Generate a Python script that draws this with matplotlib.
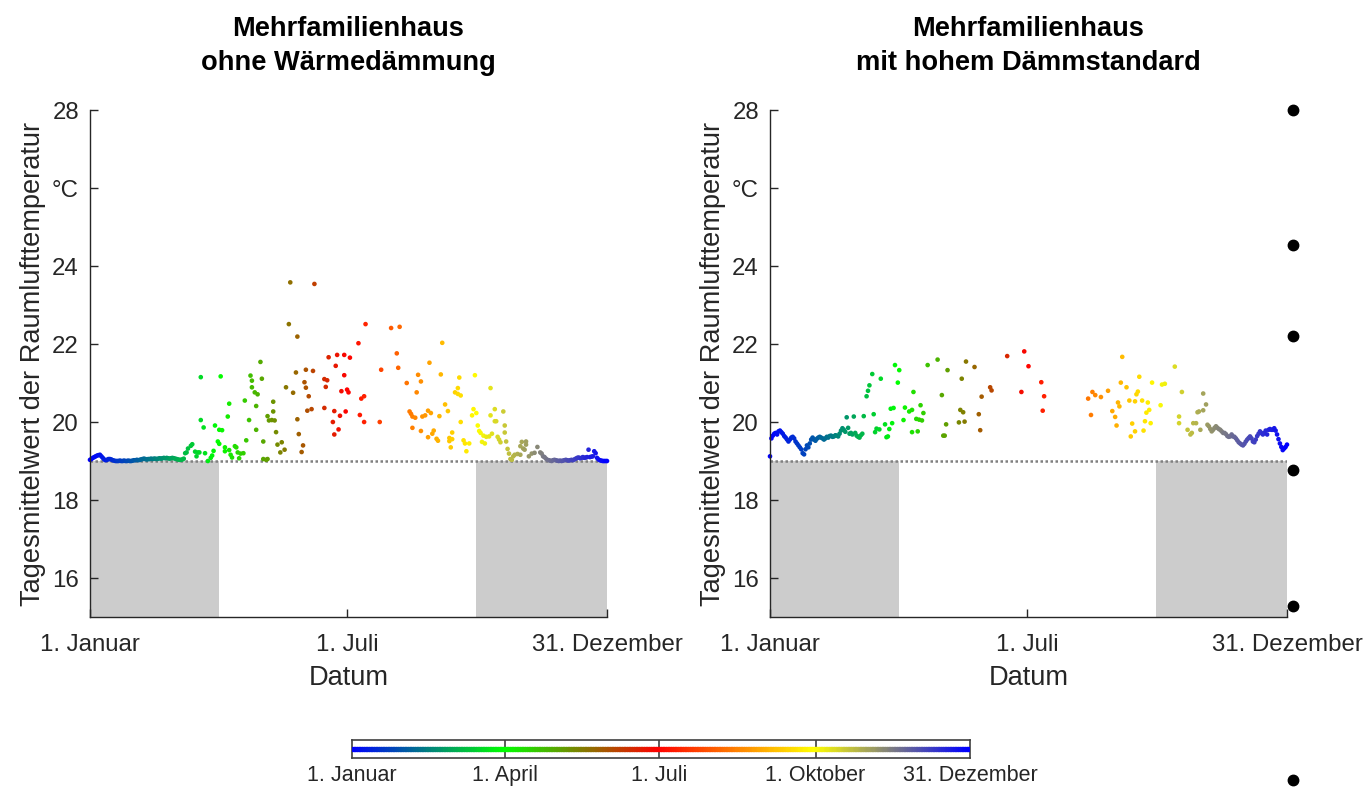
import numpy as np
import matplotlib
matplotlib.use('Agg')
import matplotlib.pyplot as plt
from matplotlib.colors import LinearSegmentedColormap, Normalize
from matplotlib.collections import LineCollection

plt.rcParams['font.family'] = ['Liberation Sans', 'DejaVu Sans']

# ---------------- texts / categories ----------------
titles = ["Mehrfamilienhaus\nohne Wärmedämmung",
          "Mehrfamilienhaus\nmit hohem Dämmstandard"]
ylabel = "Tagesmittelwert der Raumlufttemperatur"
xlabel = "Datum"
ytick_vals = [16, 18, 20, 22, 24, 26, 28]
ytick_labels = ['16', '18', '20', '22', '24', '°C', '28']
xtick_days = [1, 182, 365]
xtick_labels = ['1. Januar', '1. Juli', '31. Dezember']
cbar_days = [1, 91, 182, 274, 365]
cbar_labels = ['1. Januar', '1. April', '1. Juli', '1. Oktober', '31. Dezember']
cmap_colors = ['#0000ff', '#00ff00', '#ff0000', '#ffff00', '#0000ff']
setpoint = 19.0
y_limits = (15.0, 28.0)
heating_periods = [(1, 92), (273, 365)]
side_marker_levels = [0.860, 0.689, 0.573, 0.403, 0.230, 0.009]

# ---------------- left: ohne Wärmedämmung ----------------
left_winter_start = [
    19.03, 19.05, 19.08, 19.10, 19.12, 19.14, 19.15, 19.16, 19.12, 19.08,
    19.04, 19.02, 19.03, 19.05, 19.05, 19.04, 19.02, 19.01, 19.00, 19.00,
    19.00, 19.01, 19.00, 19.00, 19.01, 19.00, 19.00, 19.01, 19.00, 19.00,
    19.01, 19.02, 19.02, 19.03, 19.02, 19.03, 19.04, 19.05, 19.06, 19.05,
    19.04, 19.05, 19.05, 19.06, 19.05, 19.06, 19.06, 19.05, 19.06, 19.07,
    19.06, 19.07, 19.08, 19.07, 19.08, 19.07, 19.06, 19.07, 19.08, 19.07,
    19.06, 19.05, 19.04, 19.03, 19.03, 19.04, 19.06]
left_mid_days = [
    68, 69, 70, 72, 73, 75, 76, 77, 78, 79, 79, 81, 82, 84, 86, 87, 88, 89, 91, 92,
    92, 93, 94, 96, 96, 98, 99, 99, 100, 101, 103, 104, 105, 106, 107, 109, 110, 111, 113, 114,
    115, 115, 117, 118, 118, 119, 121, 122, 123, 123, 125, 126, 126, 127, 129, 130, 130, 131, 132, 133,
    135, 136, 138, 139, 141, 142, 144, 146, 147, 147, 148, 150, 151, 152, 153, 153, 154, 155, 157, 158,
    159, 166, 166, 167, 168, 169, 172, 173, 173, 174, 175, 176, 177, 178, 180, 180, 181, 182, 183, 184,
    190, 191, 192, 194, 194, 195, 205, 206, 213, 217, 218, 219, 224, 226, 227, 228, 228, 230, 231, 232,
    234, 234, 235, 237, 239, 239, 240, 241, 242, 243, 245, 246, 247, 248, 249, 251, 253, 254, 254, 255,
    256, 256, 258, 260, 260, 261, 262, 262, 264, 265, 266, 268, 270, 271, 272, 273, 274, 275, 276, 277,
    278, 279, 280, 282, 283, 283, 284, 286, 286, 287, 288, 289, 290, 292, 293, 293, 294, 295, 296, 297,
    298, 299, 300, 302, 304, 304, 305, 306, 307, 308, 308, 310, 312, 314, 316, 318, 319, 320]
left_mid_vals = [
    19.20, 19.22, 19.32, 19.39, 19.43, 19.24, 19.12, 19.22, 19.22, 21.15, 20.05, 19.86, 19.20, 19.00, 19.08, 19.14, 19.26, 19.91, 19.50, 19.44,
    19.80, 21.17, 19.79, 19.35, 19.25, 20.14, 20.47, 19.28, 19.16, 19.09, 19.38, 19.35, 19.22, 19.07, 19.19, 19.20, 20.55, 19.53, 20.05, 21.19,
    21.06, 20.89, 20.76, 20.41, 19.80, 20.71, 21.54, 21.11, 19.50, 19.05, 19.03, 19.05, 20.15, 20.04, 20.05, 20.52, 20.27, 20.04, 19.74, 19.42,
    19.22, 19.48, 19.29, 20.89, 22.51, 23.58, 20.75, 21.27, 22.19, 20.07, 19.69, 19.23, 19.40, 21.02, 21.34, 20.88, 20.29, 20.66, 20.33, 21.31,
    23.54, 20.36, 21.10, 20.90, 21.07, 21.66, 20.00, 20.28, 19.68, 21.44, 21.72, 19.81, 20.16, 20.79, 21.72, 21.20, 20.27, 20.83, 20.76, 21.65,
    22.02, 20.18, 20.60, 20.66, 20.00, 22.51, 20.00, 21.34, 22.41, 21.76, 21.39, 22.44, 21.00, 20.27, 20.21, 19.85, 20.14, 20.11, 20.76, 21.21,
    21.04, 19.77, 20.14, 20.17, 20.29, 19.61, 21.52, 20.23, 19.70, 19.78, 19.57, 19.52, 20.15, 21.22, 22.03, 20.45, 20.28, 19.59, 19.51, 19.35,
    19.73, 19.56, 20.76, 20.87, 20.72, 21.14, 20.68, 20.00, 19.53, 19.45, 19.25, 19.45, 20.17, 20.33, 21.20, 20.23, 19.91, 19.77, 19.72, 19.49,
    19.65, 19.45, 19.62, 19.63, 20.87, 20.17, 19.70, 20.02, 20.33, 20.02, 19.62, 19.55, 19.48, 20.27, 19.73, 19.91, 19.50, 19.31, 19.19, 19.05,
    19.03, 19.12, 19.16, 19.18, 19.16, 19.38, 19.49, 19.32, 19.29, 19.50, 19.42, 19.12, 19.19, 19.21, 19.36, 19.22, 19.19, 19.12]
left_winter_end = [
    19.10, 19.06, 19.03, 19.02, 19.01, 19.00, 19.02, 19.03, 19.02, 19.01,
    19.00, 19.01, 19.00, 19.01, 19.02, 19.03, 19.02, 19.01, 19.02, 19.03,
    19.02, 19.04, 19.06, 19.08, 19.09, 19.07, 19.08, 19.10, 19.08, 19.09,
    19.10, 19.29, 19.10, 19.11, 19.12, 19.25, 19.20, 19.08, 19.04, 19.02,
    19.01, 19.00, 19.00, 19.00, 19.00]

# ---------------- right: mit hohem Dämmstandard ----------------
right_winter_start = [
    19.12, 19.58, 19.65, 19.70, 19.72, 19.68, 19.76, 19.78, 19.74, 19.70,
    19.64, 19.60, 19.55, 19.50, 19.55, 19.60, 19.62, 19.58, 19.50, 19.45,
    19.40, 19.35, 19.30, 19.20, 19.17, 19.30, 19.40, 19.35, 19.45, 19.55,
    19.60, 19.55, 19.52, 19.57, 19.60, 19.62, 19.60, 19.58, 19.55, 19.58,
    19.62, 19.60, 19.64, 19.65, 19.62, 19.63, 19.66, 19.65, 19.63, 19.70,
    19.78, 19.84, 19.80, 19.75, 20.12, 19.85, 19.70, 19.72, 19.68, 20.14,
    19.72, 19.65, 19.62, 19.60, 19.66, 19.70, 20.15]
right_mid_days = [
    69, 70, 71, 73, 74, 75, 76, 78, 79, 82, 83, 84, 85, 86, 87, 88, 89, 91, 92, 95,
    96, 99, 101, 101, 102, 104, 105, 106, 107, 108, 109, 112, 119, 122, 123, 124, 125, 126, 134, 135,
    136, 137, 138, 139, 145, 148, 149, 150, 156, 157, 168, 178, 180, 183, 192, 193, 194, 225, 227, 228,
    230, 234, 239, 242, 244, 245, 246, 247, 248, 249, 252, 254, 255, 256, 258, 258, 259, 260, 261, 263,
    264, 265, 266, 267, 268, 269, 270, 276, 277, 279, 286, 289, 289, 291, 295, 297, 298, 299, 301, 302,
    303, 304, 306, 306, 308]
right_mid_vals = [
    20.66, 20.80, 20.94, 21.23, 20.20, 19.74, 19.83, 19.81, 21.11, 19.94, 19.61, 19.63, 19.82, 20.34, 19.97, 20.36, 21.46, 21.01, 21.33, 20.05,
    20.37, 20.27, 19.74, 20.31, 20.77, 20.08, 19.76, 20.06, 20.43, 20.04, 20.23, 21.46, 21.60, 20.69, 19.65, 19.65, 19.94, 21.33, 19.99, 20.31,
    21.11, 20.25, 20.01, 21.55, 21.41, 20.20, 19.79, 20.65, 20.89, 20.81, 21.69, 20.77, 21.81, 21.43, 21.02, 20.29, 20.66, 20.60, 20.18, 20.77,
    20.69, 20.64, 20.80, 20.28, 20.13, 19.91, 20.50, 20.40, 21.01, 21.67, 20.89, 20.55, 19.63, 19.96, 19.76, 20.53, 20.71, 20.78, 21.16, 20.55,
    19.78, 20.02, 20.24, 20.50, 20.31, 19.97, 21.01, 20.43, 20.96, 20.98, 21.42, 19.97, 20.14, 20.77, 19.80, 19.68, 19.72, 19.97, 19.97, 20.25,
    20.27, 19.80, 20.30, 20.73, 20.45]
right_winter_end = [
    19.93, 19.89, 19.82, 19.76, 19.80, 19.85, 19.89, 19.85, 19.82, 19.80,
    19.76, 19.72, 19.72, 19.69, 19.64, 19.62, 19.63, 19.68, 19.63, 19.62,
    19.58, 19.53, 19.48, 19.45, 19.42, 19.40, 19.44, 19.50, 19.55, 19.59,
    19.63, 19.58, 19.50, 19.48, 19.55, 19.64, 19.70, 19.76, 19.72, 19.68,
    19.72, 19.78, 19.68, 19.80, 19.82, 19.80, 19.80, 19.84, 19.78, 19.68,
    19.56, 19.45, 19.36, 19.28, 19.32, 19.36, 19.42]


def assemble(start_vals, mid_days, mid_vals, end_vals):
    d0 = np.arange(1, len(start_vals) + 1)
    d2 = np.arange(365 - len(end_vals) + 1, 366)
    days = np.concatenate([d0, np.array(mid_days), d2])
    vals = np.concatenate([start_vals, mid_vals, end_vals])
    return days, vals


series = [assemble(left_winter_start, left_mid_days, left_mid_vals, left_winter_end),
          assemble(right_winter_start, right_mid_days, right_mid_vals, right_winter_end)]

anchor_pos = [(d - 1) / 364 for d in cbar_days]
cmap = LinearSegmentedColormap.from_list('year', list(zip(anchor_pos, cmap_colors)))
norm = Normalize(vmin=1, vmax=365)

FS = 17.3
FS_LAB = 19.6
TXT = '#262626'

fig = plt.figure(figsize=(13.67, 7.87), dpi=100)
W, H = 1367, 787
ax_lefts = [90, 770]
for i, (days, vals) in enumerate(series):
    ax = fig.add_axes([ax_lefts[i] / W, 1 - 617 / H, 517 / W, 507 / H])
    for (a, b) in heating_periods:
        ax.fill_between([a, b], y_limits[0], setpoint, color='#cccccc', lw=0, zorder=1)
    ax.plot([1, 365], [setpoint, setpoint], color='#808080', lw=1.8,
            linestyle=(0, (1, 1)), zorder=2)
    ax.scatter(days, vals, c=days, cmap=cmap, norm=norm, s=11, edgecolors='none',
               zorder=3, clip_on=False)
    ax.set_xlim(1, 365)
    ax.set_ylim(*y_limits)
    for s in ['top', 'right']:
        ax.spines[s].set_visible(False)
    for s in ['left', 'bottom']:
        ax.spines[s].set_color(TXT)
        ax.spines[s].set_linewidth(1.0)
        ax.spines[s].set_zorder(4)
    ax.set_yticks(ytick_vals)
    ax.set_yticklabels(ytick_labels)
    ax.set_xticks(xtick_days)
    ax.set_xticklabels(xtick_labels)
    ax.tick_params(direction='in', length=6, width=1.0, colors=TXT,
                   labelsize=FS, pad=8)
    ax.tick_params(axis='x', pad=12)
    ax.set_ylabel(ylabel, fontsize=FS_LAB, color=TXT, labelpad=4)
    ax.set_xlabel(xlabel, fontsize=FS_LAB, color=TXT, labelpad=7)
    ax.set_title(titles[i], fontsize=FS_LAB, fontweight='bold', pad=29,
                 linespacing=1.38, color='black')

# colour bar for the date
cax = fig.add_axes([352 / W, 1 - 758 / H, 618 / W, 18 / H])
cd = np.arange(1, 366)
pts = np.column_stack([cd, np.full(cd.shape, 0.5)])
segs = np.stack([pts[:-1], pts[1:]], axis=1)
lc = LineCollection(segs, colors=cmap(norm(cd[:-1] + 0.5)), linewidths=3.8,
                    capstyle='round', zorder=3)
cax.add_collection(lc)
cax.set_xlim(1, 365)
cax.set_ylim(0, 1)
for d in cbar_days[1:-1]:
    cax.axvline(d, color='#404040', lw=1.2, zorder=2)
for s in cax.spines.values():
    s.set_color('#404040')
    s.set_linewidth(1.2)
cax.set_yticks([])
cax.set_xticks(cbar_days)
cax.set_xticklabels(cbar_labels)
cax.tick_params(axis='x', length=0, pad=5, labelsize=15.5, colors=TXT)

# side markers
oax = fig.add_axes([0, 0, 1, 1])
oax.set_xlim(0, 1)
oax.set_ylim(0, 1)
oax.axis('off')
oax.plot(np.full(len(side_marker_levels), 1293 / W), side_marker_levels, 'o',
         color='black', markersize=7.5, clip_on=False)

fig.savefig('out.png', dpi=100)
